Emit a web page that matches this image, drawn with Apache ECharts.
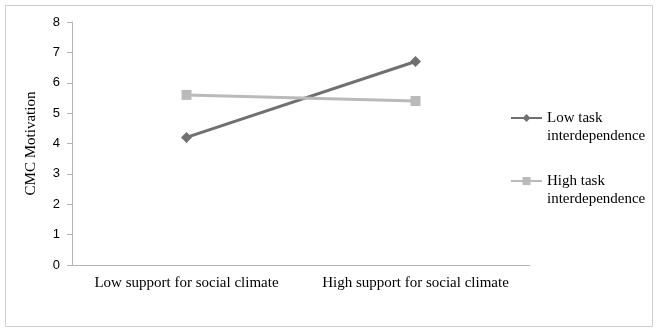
<!DOCTYPE html>
<html>
<head>
<meta charset="utf-8">
<script src="https://cdn.jsdelivr.net/npm/echarts@6/dist/echarts.min.js"></script>
<style>
  html, body { margin: 0; padding: 0; background: #fff; }
  #chart { width: 663px; height: 336px; }
</style>
</head>
<body>
<div id="chart"></div>
<script>
var categories = ['Low support for social climate', 'High support for social climate'];
var seriesNames = ['Low task\ninterdependence', 'High task\ninterdependence'];
var lowTask = [4.2, 6.7];
var highTask = [5.6, 5.4];
var yTicks = [0, 8, 1];

var chart = echarts.init(document.getElementById('chart'));

chart.setOption({
    animation: false,
    backgroundColor: '#fff',
    graphic: [{
        type: 'rect',
        shape: { x: 5.5, y: 5.5, width: 647, height: 321 },
        style: { fill: 'none', stroke: '#cfcfcf', lineWidth: 1 }
    }],
    grid: { left: 72, right: 133, top: 22, bottom: 71 },
    legend: {
        orient: 'vertical',
        left: 510,
        top: 91,
        padding: 0,
        itemWidth: 31,
        itemHeight: 10,
        itemGap: 9,
        // leading blank line puts the icon on the first text line
        formatter: function (name) { return '\n' + name; },
        textStyle: {
            fontFamily: 'Liberation Serif',
            fontSize: 15,
            color: '#000',
            lineHeight: 18
        },
        data: seriesNames
    },
    xAxis: {
        type: 'category',
        data: categories,
        axisLine: { lineStyle: { color: '#b5b5b5' } },
        axisTick: { length: 4, lineStyle: { color: '#b5b5b5' } },
        axisLabel: {
            interval: 0,
            fontFamily: 'Liberation Serif',
            fontSize: 15,
            color: '#000',
            margin: 11
        }
    },
    yAxis: {
        type: 'value',
        min: yTicks[0],
        max: yTicks[1],
        interval: yTicks[2],
        name: 'CMC Motivation',
        nameLocation: 'middle',
        nameGap: 33,
        nameTextStyle: { fontFamily: 'Liberation Serif', fontSize: 15, color: '#000' },
        splitLine: { show: false },
        axisLine: { show: true, lineStyle: { color: '#b5b5b5' } },
        axisTick: { show: true, length: 5, lineStyle: { color: '#b5b5b5' } },
        axisLabel: {
            fontFamily: 'Liberation Sans',
            fontSize: 13,
            color: '#000',
            margin: 12
        }
    },
    series: [{
        name: seriesNames[0],
        type: 'line',
        data: lowTask,
        symbol: 'diamond',
        symbolSize: 11,
        lineStyle: { color: '#707070', width: 3 },
        itemStyle: { color: '#707070' }
    }, {
        name: seriesNames[1],
        type: 'line',
        data: highTask,
        symbol: 'rect',
        symbolSize: 10,
        lineStyle: { color: '#bababa', width: 3 },
        itemStyle: { color: '#bababa' }
    }]
});
</script>
</body>
</html>
